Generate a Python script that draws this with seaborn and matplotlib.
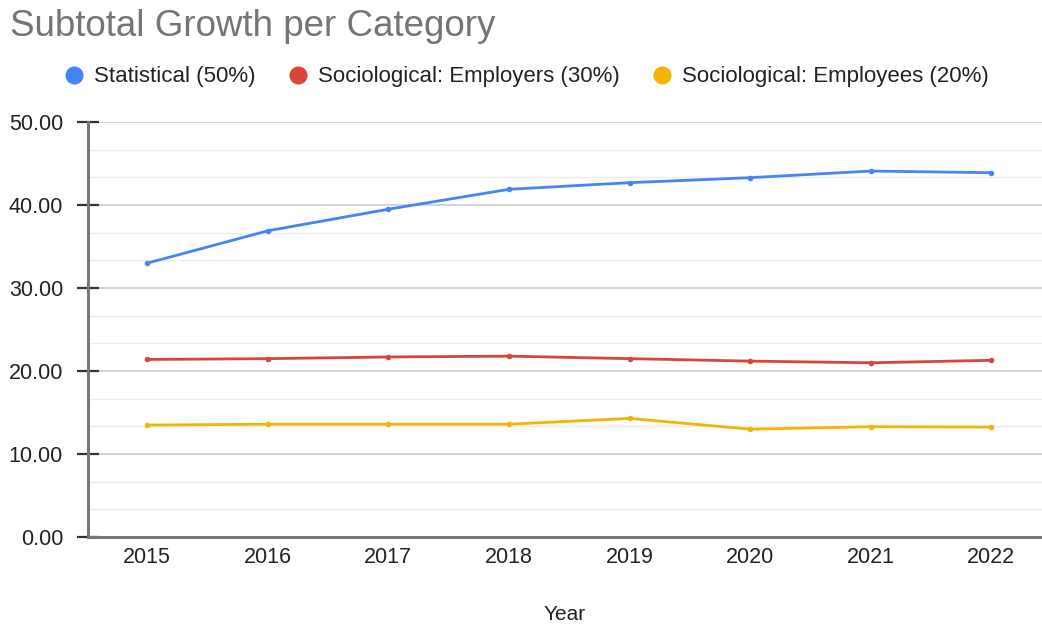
import numpy as np
import pandas as pd
import matplotlib
matplotlib.use("Agg")
import matplotlib.pyplot as plt
from matplotlib.lines import Line2D
from matplotlib.ticker import MultipleLocator, FormatStrFormatter
import seaborn as sns

years = [2015, 2016, 2017, 2018, 2019, 2020, 2021, 2022]
statistical = [33.0, 36.9, 39.5, 41.9, 42.7, 43.3, 44.1, 43.9]
employers = [21.4, 21.5, 21.7, 21.8, 21.5, 21.2, 21.0, 21.3]
employees = [13.5, 13.6, 13.6, 13.6, 14.3, 13.0, 13.3, 13.25]

series_names = ["Statistical (50%)", "Sociological: Employers (30%)",
                "Sociological: Employees (20%)"]
series_colors = ["#4285F4", "#DB4437", "#F4B400"]

df = pd.DataFrame({
    "Year": years * 3,
    "Value": statistical + employers + employees,
    "Series": sum([[n] * len(years) for n in series_names], []),
})

sns.set_theme(style="white")
plt.rcParams["font.family"] = ["Liberation Sans", "DejaVu Sans"]

fig = plt.figure(figsize=(10.42, 6.26), dpi=100)
ax = fig.add_axes([0.0845, 0.142, 0.9155, 0.663])

sns.lineplot(data=df, x="Year", y="Value", hue="Series",
             palette=dict(zip(series_names, series_colors)),
             marker="o", markersize=4, markeredgewidth=0,
             linewidth=2.0, ax=ax, legend=False)

ax.set_ylim(0, 50)
ax.set_xlim(years[0] - 0.49, years[0] + 7.42)
ax.set_xticks(years)
ax.set_xticklabels([str(y) for y in years])
ax.yaxis.set_major_locator(MultipleLocator(10))
ax.yaxis.set_minor_locator(MultipleLocator(10 / 3))
ax.yaxis.set_major_formatter(FormatStrFormatter("%.2f"))

ax.grid(which="major", axis="y", color="#cccccc", linewidth=1.2)
ax.grid(which="minor", axis="y", color="#ececec", linewidth=1.0)
ax.grid(which="major", axis="x", visible=False)
ax.set_axisbelow(True)

for s in ["top", "right"]:
    ax.spines[s].set_visible(False)
ax.spines["left"].set_color("#777777")
ax.spines["left"].set_linewidth(2.2)
ax.spines["bottom"].set_color("#777777")
ax.spines["bottom"].set_linewidth(2.2)

ax.tick_params(axis="y", which="major", direction="inout", length=16,
               width=1.6, color="#333333", labelsize=15.5,
               labelcolor="#222222", pad=10, left=True)
ax.tick_params(axis="y", which="minor", length=0)
ax.tick_params(axis="x", length=0, labelsize=15.5, labelcolor="#222222", pad=7)

ax.set_ylabel("")
ax.set_xlabel("Year", fontsize=15, color="#222222", labelpad=27)

fig.text(0.01, 0.958, "Subtotal Growth per Category", fontsize=26.5,
         color="#757575", va="center", ha="left")

handles = [Line2D([0], [0], marker="o", linestyle="", markersize=13,
                  markerfacecolor=c, markeredgewidth=0) for c in series_colors]
fig.legend(handles, series_names, loc="center left",
           bbox_to_anchor=(0.041, 0.877), ncol=3, frameon=False,
           fontsize=16, handletextpad=0.4, columnspacing=1.4,
           handlelength=1.0, labelcolor="#222222")

fig.savefig("out.png", dpi=100)
